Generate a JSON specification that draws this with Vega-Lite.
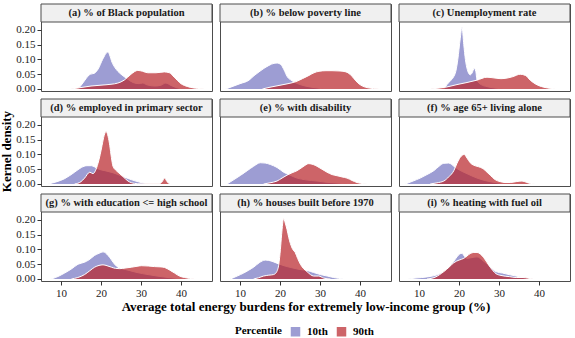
{
"$schema": "https://vega.github.io/schema/vega-lite/v6.json",
"padding": {"left": 0, "top": 3, "right": 2, "bottom": 0},
"background": "white",
"datasets": {
"panels": [
{"p":"a","label":"(a) % of Black population"},
{"p":"b","label":"(b) % below poverty line"},
{"p":"c","label":"(c) Unemployment rate"},
{"p":"d","label":"(d) % employed in primary sector"},
{"p":"e","label":"(e) % with disability"},
{"p":"f","label":"(f) % age 65+ living alone"},
{"p":"g","label":"(g) % with education <= high school"},
{"p":"h","label":"(h) % houses built before 1970"},
{"p":"i","label":"(i) % heating with fuel oil"}
],
"dens": [
{"p":"a","g":"10th","x":14.2,"y":0},{"p":"a","g":"10th","x":15,"y":0.012},{"p":"a","g":"10th","x":16.25,"y":0.035},{"p":"a","g":"10th","x":17.3,"y":0.05},{"p":"a","g":"10th","x":18.3,"y":0.053},{"p":"a","g":"10th","x":19.3,"y":0.068},{"p":"a","g":"10th","x":20.4,"y":0.1},{"p":"a","g":"10th","x":21.7,"y":0.125},{"p":"a","g":"10th","x":22.9,"y":0.086},{"p":"a","g":"10th","x":24.2,"y":0.06},{"p":"a","g":"10th","x":25,"y":0.05},{"p":"a","g":"10th","x":26.5,"y":0.035},{"p":"a","g":"10th","x":28,"y":0.022},{"p":"a","g":"10th","x":29.5,"y":0.018},{"p":"a","g":"10th","x":30.4,"y":0.02},{"p":"a","g":"10th","x":31.5,"y":0.014},{"p":"a","g":"10th","x":33.5,"y":0.01},{"p":"a","g":"10th","x":35,"y":0.013},{"p":"a","g":"10th","x":36.2,"y":0.02},{"p":"a","g":"10th","x":37.5,"y":0.012},{"p":"a","g":"10th","x":39,"y":0.004},{"p":"a","g":"10th","x":41,"y":0},
{"p":"a","g":"90th","x":12.5,"y":0},{"p":"a","g":"90th","x":15,"y":0.005},{"p":"a","g":"90th","x":17.5,"y":0.01},{"p":"a","g":"90th","x":20,"y":0.013},{"p":"a","g":"90th","x":22.5,"y":0.016},{"p":"a","g":"90th","x":24.2,"y":0.02},{"p":"a","g":"90th","x":25.8,"y":0.03},{"p":"a","g":"90th","x":27.5,"y":0.05},{"p":"a","g":"90th","x":29.2,"y":0.063},{"p":"a","g":"90th","x":30.4,"y":0.06},{"p":"a","g":"90th","x":31.7,"y":0.055},{"p":"a","g":"90th","x":33.75,"y":0.055},{"p":"a","g":"90th","x":35.8,"y":0.058},{"p":"a","g":"90th","x":37.1,"y":0.055},{"p":"a","g":"90th","x":38.3,"y":0.04},{"p":"a","g":"90th","x":40,"y":0.018},{"p":"a","g":"90th","x":41.7,"y":0.008},{"p":"a","g":"90th","x":44.2,"y":0.002},{"p":"a","g":"90th","x":45.8,"y":0},
{"p":"b","g":"10th","x":6.4,"y":0},{"p":"b","g":"10th","x":8,"y":0.008},{"p":"b","g":"10th","x":10,"y":0.018},{"p":"b","g":"10th","x":12.25,"y":0.03},{"p":"b","g":"10th","x":13.5,"y":0.045},{"p":"b","g":"10th","x":14.75,"y":0.058},{"p":"b","g":"10th","x":16,"y":0.07},{"p":"b","g":"10th","x":17.25,"y":0.08},{"p":"b","g":"10th","x":18.5,"y":0.087},{"p":"b","g":"10th","x":19.3,"y":0.088},{"p":"b","g":"10th","x":20.2,"y":0.083},{"p":"b","g":"10th","x":21,"y":0.065},{"p":"b","g":"10th","x":21.8,"y":0.042},{"p":"b","g":"10th","x":23,"y":0.028},{"p":"b","g":"10th","x":25,"y":0.015},{"p":"b","g":"10th","x":27,"y":0.008},{"p":"b","g":"10th","x":29.5,"y":0.003},{"p":"b","g":"10th","x":31,"y":0},
{"p":"b","g":"90th","x":15.6,"y":0},{"p":"b","g":"90th","x":17.5,"y":0.006},{"p":"b","g":"90th","x":19.75,"y":0.012},{"p":"b","g":"90th","x":22,"y":0.018},{"p":"b","g":"90th","x":24,"y":0.025},{"p":"b","g":"90th","x":25.6,"y":0.035},{"p":"b","g":"90th","x":27.25,"y":0.046},{"p":"b","g":"90th","x":28.5,"y":0.055},{"p":"b","g":"90th","x":29.75,"y":0.06},{"p":"b","g":"90th","x":31.5,"y":0.062},{"p":"b","g":"90th","x":33,"y":0.062},{"p":"b","g":"90th","x":35,"y":0.061},{"p":"b","g":"90th","x":36.5,"y":0.058},{"p":"b","g":"90th","x":37.5,"y":0.05},{"p":"b","g":"90th","x":38.5,"y":0.035},{"p":"b","g":"90th","x":39.5,"y":0.02},{"p":"b","g":"90th","x":40.6,"y":0.01},{"p":"b","g":"90th","x":42,"y":0.004},{"p":"b","g":"90th","x":44.75,"y":0},
{"p":"c","g":"10th","x":16.2,"y":0},{"p":"c","g":"10th","x":17,"y":0.015},{"p":"c","g":"10th","x":17.8,"y":0.027},{"p":"c","g":"10th","x":18.6,"y":0.04},{"p":"c","g":"10th","x":19.2,"y":0.06},{"p":"c","g":"10th","x":19.7,"y":0.1},{"p":"c","g":"10th","x":20.3,"y":0.17},{"p":"c","g":"10th","x":20.75,"y":0.21},{"p":"c","g":"10th","x":21.2,"y":0.15},{"p":"c","g":"10th","x":21.6,"y":0.1},{"p":"c","g":"10th","x":22.1,"y":0.065},{"p":"c","g":"10th","x":22.8,"y":0.048},{"p":"c","g":"10th","x":23.3,"y":0.055},{"p":"c","g":"10th","x":23.8,"y":0.07},{"p":"c","g":"10th","x":24.2,"y":0.06},{"p":"c","g":"10th","x":24.5,"y":0.03},{"p":"c","g":"10th","x":25.5,"y":0.015},{"p":"c","g":"10th","x":27,"y":0.008},{"p":"c","g":"10th","x":29,"y":0.003},{"p":"c","g":"10th","x":31,"y":0},
{"p":"c","g":"90th","x":12.8,"y":0},{"p":"c","g":"90th","x":15,"y":0.003},{"p":"c","g":"90th","x":17,"y":0.007},{"p":"c","g":"90th","x":19.5,"y":0.015},{"p":"c","g":"90th","x":22,"y":0.022},{"p":"c","g":"90th","x":24.5,"y":0.03},{"p":"c","g":"90th","x":27,"y":0.04},{"p":"c","g":"90th","x":29,"y":0.037},{"p":"c","g":"90th","x":30.5,"y":0.035},{"p":"c","g":"90th","x":32,"y":0.037},{"p":"c","g":"90th","x":33.5,"y":0.042},{"p":"c","g":"90th","x":35.3,"y":0.05},{"p":"c","g":"90th","x":36.6,"y":0.046},{"p":"c","g":"90th","x":37.8,"y":0.03},{"p":"c","g":"90th","x":39,"y":0.018},{"p":"c","g":"90th","x":41.2,"y":0.006},{"p":"c","g":"90th","x":43,"y":0.002},{"p":"c","g":"90th","x":45.3,"y":0},
{"p":"d","g":"10th","x":6.75,"y":0},{"p":"d","g":"10th","x":9,"y":0.008},{"p":"d","g":"10th","x":10.9,"y":0.018},{"p":"d","g":"10th","x":13.4,"y":0.04},{"p":"d","g":"10th","x":15.1,"y":0.056},{"p":"d","g":"10th","x":16.5,"y":0.062},{"p":"d","g":"10th","x":17.6,"y":0.062},{"p":"d","g":"10th","x":18.4,"y":0.058},{"p":"d","g":"10th","x":19.5,"y":0.05},{"p":"d","g":"10th","x":21,"y":0.045},{"p":"d","g":"10th","x":23,"y":0.038},{"p":"d","g":"10th","x":25,"y":0.028},{"p":"d","g":"10th","x":27.5,"y":0.015},{"p":"d","g":"10th","x":30,"y":0.005},{"p":"d","g":"10th","x":32,"y":0},
{"p":"d","g":"90th","x":13.4,"y":0},{"p":"d","g":"90th","x":15,"y":0.008},{"p":"d","g":"90th","x":15.9,"y":0.02},{"p":"d","g":"90th","x":17.2,"y":0.04},{"p":"d","g":"90th","x":18,"y":0.035},{"p":"d","g":"90th","x":18.6,"y":0.045},{"p":"d","g":"90th","x":19.25,"y":0.07},{"p":"d","g":"90th","x":19.8,"y":0.1},{"p":"d","g":"90th","x":20.25,"y":0.13},{"p":"d","g":"90th","x":20.8,"y":0.165},{"p":"d","g":"90th","x":21.3,"y":0.178},{"p":"d","g":"90th","x":21.8,"y":0.16},{"p":"d","g":"90th","x":22.2,"y":0.13},{"p":"d","g":"90th","x":22.6,"y":0.09},{"p":"d","g":"90th","x":23,"y":0.06},{"p":"d","g":"90th","x":23.6,"y":0.048},{"p":"d","g":"90th","x":24.25,"y":0.04},{"p":"d","g":"90th","x":25.5,"y":0.025},{"p":"d","g":"90th","x":26.75,"y":0.01},{"p":"d","g":"90th","x":28.4,"y":0.002},{"p":"d","g":"90th","x":30,"y":0.0005},{"p":"d","g":"90th","x":34.5,"y":0.0005},{"p":"d","g":"90th","x":35.3,"y":0.008},{"p":"d","g":"90th","x":35.9,"y":0.02},{"p":"d","g":"90th","x":36.5,"y":0.008},{"p":"d","g":"90th","x":37.2,"y":0},
{"p":"e","g":"10th","x":6.75,"y":0},{"p":"e","g":"10th","x":8.5,"y":0.015},{"p":"e","g":"10th","x":10.1,"y":0.029},{"p":"e","g":"10th","x":11.8,"y":0.045},{"p":"e","g":"10th","x":13.4,"y":0.06},{"p":"e","g":"10th","x":15.1,"y":0.072},{"p":"e","g":"10th","x":16.3,"y":0.071},{"p":"e","g":"10th","x":17.6,"y":0.066},{"p":"e","g":"10th","x":19.25,"y":0.056},{"p":"e","g":"10th","x":20.9,"y":0.04},{"p":"e","g":"10th","x":22.5,"y":0.03},{"p":"e","g":"10th","x":24.25,"y":0.02},{"p":"e","g":"10th","x":26.5,"y":0.014},{"p":"e","g":"10th","x":29.25,"y":0.01},{"p":"e","g":"10th","x":31.5,"y":0.006},{"p":"e","g":"10th","x":34.25,"y":0.003},{"p":"e","g":"10th","x":37,"y":0},
{"p":"e","g":"90th","x":15.9,"y":0},{"p":"e","g":"90th","x":17.5,"y":0.004},{"p":"e","g":"90th","x":19.25,"y":0.01},{"p":"e","g":"90th","x":20.5,"y":0.02},{"p":"e","g":"90th","x":21.75,"y":0.03},{"p":"e","g":"90th","x":23,"y":0.038},{"p":"e","g":"90th","x":24.25,"y":0.045},{"p":"e","g":"90th","x":25.7,"y":0.058},{"p":"e","g":"90th","x":27.2,"y":0.069},{"p":"e","g":"90th","x":28.3,"y":0.066},{"p":"e","g":"90th","x":29.25,"y":0.06},{"p":"e","g":"90th","x":30.5,"y":0.05},{"p":"e","g":"90th","x":31.75,"y":0.04},{"p":"e","g":"90th","x":33,"y":0.032},{"p":"e","g":"90th","x":34.25,"y":0.028},{"p":"e","g":"90th","x":35.5,"y":0.024},{"p":"e","g":"90th","x":36.75,"y":0.02},{"p":"e","g":"90th","x":38,"y":0.012},{"p":"e","g":"90th","x":39.25,"y":0.005},{"p":"e","g":"90th","x":41,"y":0.001},{"p":"e","g":"90th","x":42.6,"y":0},
{"p":"f","g":"10th","x":6.6,"y":0},{"p":"f","g":"10th","x":8.5,"y":0.01},{"p":"f","g":"10th","x":10.3,"y":0.02},{"p":"f","g":"10th","x":12,"y":0.032},{"p":"f","g":"10th","x":13.7,"y":0.045},{"p":"f","g":"10th","x":15,"y":0.06},{"p":"f","g":"10th","x":16.2,"y":0.07},{"p":"f","g":"10th","x":17.4,"y":0.071},{"p":"f","g":"10th","x":18.2,"y":0.066},{"p":"f","g":"10th","x":18.7,"y":0.06},{"p":"f","g":"10th","x":20,"y":0.048},{"p":"f","g":"10th","x":22,"y":0.035},{"p":"f","g":"10th","x":24.5,"y":0.02},{"p":"f","g":"10th","x":27,"y":0.01},{"p":"f","g":"10th","x":29.5,"y":0.004},{"p":"f","g":"10th","x":32,"y":0},
{"p":"f","g":"90th","x":12.8,"y":0},{"p":"f","g":"90th","x":14.5,"y":0.004},{"p":"f","g":"90th","x":16.2,"y":0.01},{"p":"f","g":"90th","x":17.5,"y":0.025},{"p":"f","g":"90th","x":18.7,"y":0.045},{"p":"f","g":"90th","x":19.5,"y":0.07},{"p":"f","g":"90th","x":20.3,"y":0.09},{"p":"f","g":"90th","x":21.3,"y":0.1},{"p":"f","g":"90th","x":22,"y":0.088},{"p":"f","g":"90th","x":22.8,"y":0.072},{"p":"f","g":"90th","x":23.6,"y":0.064},{"p":"f","g":"90th","x":24.5,"y":0.06},{"p":"f","g":"90th","x":25.4,"y":0.056},{"p":"f","g":"90th","x":26.2,"y":0.05},{"p":"f","g":"90th","x":27,"y":0.04},{"p":"f","g":"90th","x":27.8,"y":0.03},{"p":"f","g":"90th","x":29,"y":0.015},{"p":"f","g":"90th","x":30.3,"y":0.008},{"p":"f","g":"90th","x":31.5,"y":0.005},{"p":"f","g":"90th","x":32.8,"y":0.005},{"p":"f","g":"90th","x":34.3,"y":0.008},{"p":"f","g":"90th","x":35.75,"y":0.01},{"p":"f","g":"90th","x":36.8,"y":0.006},{"p":"f","g":"90th","x":37.8,"y":0.002},{"p":"f","g":"90th","x":40.3,"y":0},
{"p":"g","g":"10th","x":7.6,"y":0},{"p":"g","g":"10th","x":9.5,"y":0.01},{"p":"g","g":"10th","x":10.9,"y":0.02},{"p":"g","g":"10th","x":12.5,"y":0.033},{"p":"g","g":"10th","x":14.25,"y":0.05},{"p":"g","g":"10th","x":15.9,"y":0.057},{"p":"g","g":"10th","x":17,"y":0.065},{"p":"g","g":"10th","x":18.4,"y":0.08},{"p":"g","g":"10th","x":19.5,"y":0.087},{"p":"g","g":"10th","x":20.5,"y":0.092},{"p":"g","g":"10th","x":21.75,"y":0.08},{"p":"g","g":"10th","x":22.6,"y":0.065},{"p":"g","g":"10th","x":23.4,"y":0.05},{"p":"g","g":"10th","x":24.25,"y":0.04},{"p":"g","g":"10th","x":26.75,"y":0.03},{"p":"g","g":"10th","x":29,"y":0.022},{"p":"g","g":"10th","x":31.75,"y":0.015},{"p":"g","g":"10th","x":34,"y":0.01},{"p":"g","g":"10th","x":36.75,"y":0.005},{"p":"g","g":"10th","x":40.5,"y":0},
{"p":"g","g":"90th","x":12.6,"y":0},{"p":"g","g":"90th","x":14.2,"y":0.005},{"p":"g","g":"90th","x":15.9,"y":0.015},{"p":"g","g":"90th","x":17.2,"y":0.028},{"p":"g","g":"90th","x":18.4,"y":0.04},{"p":"g","g":"90th","x":19.5,"y":0.046},{"p":"g","g":"90th","x":20.5,"y":0.048},{"p":"g","g":"90th","x":21.5,"y":0.045},{"p":"g","g":"90th","x":22.6,"y":0.04},{"p":"g","g":"90th","x":23.6,"y":0.036},{"p":"g","g":"90th","x":24.7,"y":0.035},{"p":"g","g":"90th","x":26,"y":0.037},{"p":"g","g":"90th","x":27.6,"y":0.04},{"p":"g","g":"90th","x":29,"y":0.043},{"p":"g","g":"90th","x":30.1,"y":0.045},{"p":"g","g":"90th","x":31.8,"y":0.044},{"p":"g","g":"90th","x":33.4,"y":0.042},{"p":"g","g":"90th","x":35,"y":0.041},{"p":"g","g":"90th","x":35.9,"y":0.039},{"p":"g","g":"90th","x":37.2,"y":0.03},{"p":"g","g":"90th","x":38.4,"y":0.02},{"p":"g","g":"90th","x":39.6,"y":0.01},{"p":"g","g":"90th","x":40.9,"y":0.005},{"p":"g","g":"90th","x":43.4,"y":0},
{"p":"h","g":"10th","x":7.6,"y":0},{"p":"h","g":"10th","x":9.3,"y":0.01},{"p":"h","g":"10th","x":10.9,"y":0.02},{"p":"h","g":"10th","x":12.2,"y":0.03},{"p":"h","g":"10th","x":13.4,"y":0.04},{"p":"h","g":"10th","x":14.8,"y":0.055},{"p":"h","g":"10th","x":16.3,"y":0.064},{"p":"h","g":"10th","x":17.2,"y":0.063},{"p":"h","g":"10th","x":18,"y":0.06},{"p":"h","g":"10th","x":19.5,"y":0.052},{"p":"h","g":"10th","x":21,"y":0.045},{"p":"h","g":"10th","x":23,"y":0.038},{"p":"h","g":"10th","x":25,"y":0.032},{"p":"h","g":"10th","x":26.75,"y":0.029},{"p":"h","g":"10th","x":28.4,"y":0.022},{"p":"h","g":"10th","x":30.1,"y":0.015},{"p":"h","g":"10th","x":31.8,"y":0.01},{"p":"h","g":"10th","x":33.4,"y":0.005},{"p":"h","g":"10th","x":35.9,"y":0},
{"p":"h","g":"90th","x":13.4,"y":0},{"p":"h","g":"90th","x":14.6,"y":0.004},{"p":"h","g":"90th","x":15.9,"y":0.01},{"p":"h","g":"90th","x":17.2,"y":0.013},{"p":"h","g":"90th","x":18.4,"y":0.015},{"p":"h","g":"90th","x":19.2,"y":0.025},{"p":"h","g":"90th","x":19.7,"y":0.05},{"p":"h","g":"90th","x":20.1,"y":0.1},{"p":"h","g":"90th","x":20.4,"y":0.15},{"p":"h","g":"90th","x":20.9,"y":0.205},{"p":"h","g":"90th","x":21.3,"y":0.19},{"p":"h","g":"90th","x":21.75,"y":0.168},{"p":"h","g":"90th","x":22.2,"y":0.14},{"p":"h","g":"90th","x":22.6,"y":0.12},{"p":"h","g":"90th","x":23.2,"y":0.1},{"p":"h","g":"90th","x":23.8,"y":0.09},{"p":"h","g":"90th","x":24.4,"y":0.07},{"p":"h","g":"90th","x":25.1,"y":0.05},{"p":"h","g":"90th","x":25.9,"y":0.035},{"p":"h","g":"90th","x":26.75,"y":0.025},{"p":"h","g":"90th","x":27.6,"y":0.015},{"p":"h","g":"90th","x":28.4,"y":0.01},{"p":"h","g":"90th","x":29.7,"y":0.01},{"p":"h","g":"90th","x":30.9,"y":0.003},{"p":"h","g":"90th","x":32.6,"y":0},
{"p":"i","g":"10th","x":7.3,"y":0},{"p":"i","g":"10th","x":9,"y":0.003},{"p":"i","g":"10th","x":10.7,"y":0.005},{"p":"i","g":"10th","x":12.5,"y":0.008},{"p":"i","g":"10th","x":14.5,"y":0.014},{"p":"i","g":"10th","x":16.2,"y":0.025},{"p":"i","g":"10th","x":17.5,"y":0.04},{"p":"i","g":"10th","x":18.7,"y":0.06},{"p":"i","g":"10th","x":19.5,"y":0.075},{"p":"i","g":"10th","x":20.2,"y":0.085},{"p":"i","g":"10th","x":20.75,"y":0.087},{"p":"i","g":"10th","x":21.3,"y":0.078},{"p":"i","g":"10th","x":22,"y":0.07},{"p":"i","g":"10th","x":23,"y":0.072},{"p":"i","g":"10th","x":24.5,"y":0.075},{"p":"i","g":"10th","x":26,"y":0.062},{"p":"i","g":"10th","x":27.5,"y":0.045},{"p":"i","g":"10th","x":28.5,"y":0.032},{"p":"i","g":"10th","x":29.25,"y":0.025},{"p":"i","g":"10th","x":30.9,"y":0.02},{"p":"i","g":"10th","x":32.5,"y":0.015},{"p":"i","g":"10th","x":34.25,"y":0.01},{"p":"i","g":"10th","x":36,"y":0.005},{"p":"i","g":"10th","x":38.5,"y":0},
{"p":"i","g":"90th","x":12,"y":0},{"p":"i","g":"90th","x":14,"y":0.006},{"p":"i","g":"90th","x":16.2,"y":0.025},{"p":"i","g":"90th","x":17.5,"y":0.04},{"p":"i","g":"90th","x":18.7,"y":0.055},{"p":"i","g":"90th","x":20,"y":0.064},{"p":"i","g":"90th","x":21.2,"y":0.07},{"p":"i","g":"90th","x":22,"y":0.078},{"p":"i","g":"90th","x":22.8,"y":0.086},{"p":"i","g":"90th","x":23.7,"y":0.09},{"p":"i","g":"90th","x":24.5,"y":0.09},{"p":"i","g":"90th","x":25.3,"y":0.085},{"p":"i","g":"90th","x":26.2,"y":0.072},{"p":"i","g":"90th","x":27,"y":0.056},{"p":"i","g":"90th","x":27.8,"y":0.04},{"p":"i","g":"90th","x":28.5,"y":0.028},{"p":"i","g":"90th","x":29.25,"y":0.018},{"p":"i","g":"90th","x":30.5,"y":0.012},{"p":"i","g":"90th","x":32.6,"y":0.008},{"p":"i","g":"90th","x":34.3,"y":0.005},{"p":"i","g":"90th","x":36,"y":0.005},{"p":"i","g":"90th","x":37.2,"y":0.003},{"p":"i","g":"90th","x":38.5,"y":0}
]
},
"columns": 3,
"spacing": {"row": 8, "column": 8},
"bounds": "flush",
"concat": [
{"width":171,"height":87,"resolve":{"axis":{"x":"independent","y":"independent"}},
"layer":[
{"data":{"name":"dens"},"transform":[{"filter":"datum.p=='a'&&datum.g=='10th'"}],"mark":"area","encoding":{"x":{"field":"x","type":"quantitative","scale":{"domain":[5,47.75],"nice":false,"zero":false},"axis":null},"y":{"field":"y","type":"quantitative","scale":{"domain":[-0.0068,0.288],"nice":false,"zero":false},"axis":{"values":[0,0.05,0.1,0.15,0.2],"format":".2f","title":null}},"y2":{"datum":0},"color":{"field":"g","type":"nominal","title":"Percentile","scale":{"domain":["10th","90th"],"range":["#7474c0","#b82228"]}}}},
{"data":{"name":"dens"},"transform":[{"filter":"datum.p=='a'&&datum.g=='10th'"}],"mark":"line","encoding":{"x":{"field":"x","type":"quantitative","axis":null},"y":{"field":"y","type":"quantitative","axis":null}}},
{"data":{"name":"dens"},"transform":[{"filter":"datum.p=='a'&&datum.g=='90th'"}],"mark":"area","encoding":{"x":{"field":"x","type":"quantitative","axis":null},"y":{"field":"y","type":"quantitative","axis":null},"y2":{"datum":0},"color":{"field":"g","type":"nominal","title":"Percentile","scale":{"domain":["10th","90th"],"range":["#7474c0","#b82228"]}}}},
{"data":{"name":"dens"},"transform":[{"filter":"datum.p=='a'&&datum.g=='90th'"}],"mark":"line","encoding":{"x":{"field":"x","type":"quantitative","axis":null},"y":{"field":"y","type":"quantitative","axis":null}}},
{"data":{"name":"panels"},"transform":[{"filter":"datum.p=='a'"}],"mark":"rect","encoding":{"x":{"datum":5,"type":"quantitative","axis":null},"x2":{"datum":47.75},"y":{"datum":0.227,"type":"quantitative","axis":null},"y2":{"datum":0.288}}},
{"data":{"name":"panels"},"transform":[{"filter":"datum.p=='a'"}],"mark":"text","encoding":{"x":{"datum":26.375,"type":"quantitative","axis":null},"y":{"datum":0.2575,"type":"quantitative","axis":null},"text":{"field":"label"}}}
]},
{"width":171,"height":87,"resolve":{"axis":{"x":"independent","y":"independent"}},
"layer":[
{"data":{"name":"dens"},"transform":[{"filter":"datum.p=='b'&&datum.g=='10th'"}],"mark":"area","encoding":{"x":{"field":"x","type":"quantitative","scale":{"domain":[5,47.75],"nice":false,"zero":false},"axis":null},"y":{"field":"y","type":"quantitative","scale":{"domain":[-0.0068,0.288],"nice":false,"zero":false},"axis":null},"y2":{"datum":0},"color":{"field":"g","type":"nominal","title":"Percentile","scale":{"domain":["10th","90th"],"range":["#7474c0","#b82228"]}}}},
{"data":{"name":"dens"},"transform":[{"filter":"datum.p=='b'&&datum.g=='10th'"}],"mark":"line","encoding":{"x":{"field":"x","type":"quantitative","axis":null},"y":{"field":"y","type":"quantitative","axis":null}}},
{"data":{"name":"dens"},"transform":[{"filter":"datum.p=='b'&&datum.g=='90th'"}],"mark":"area","encoding":{"x":{"field":"x","type":"quantitative","axis":null},"y":{"field":"y","type":"quantitative","axis":null},"y2":{"datum":0},"color":{"field":"g","type":"nominal","title":"Percentile","scale":{"domain":["10th","90th"],"range":["#7474c0","#b82228"]}}}},
{"data":{"name":"dens"},"transform":[{"filter":"datum.p=='b'&&datum.g=='90th'"}],"mark":"line","encoding":{"x":{"field":"x","type":"quantitative","axis":null},"y":{"field":"y","type":"quantitative","axis":null}}},
{"data":{"name":"panels"},"transform":[{"filter":"datum.p=='b'"}],"mark":"rect","encoding":{"x":{"datum":5,"type":"quantitative","axis":null},"x2":{"datum":47.75},"y":{"datum":0.227,"type":"quantitative","axis":null},"y2":{"datum":0.288}}},
{"data":{"name":"panels"},"transform":[{"filter":"datum.p=='b'"}],"mark":"text","encoding":{"x":{"datum":26.375,"type":"quantitative","axis":null},"y":{"datum":0.2575,"type":"quantitative","axis":null},"text":{"field":"label"}}}
]},
{"width":171,"height":87,"resolve":{"axis":{"x":"independent","y":"independent"}},
"layer":[
{"data":{"name":"dens"},"transform":[{"filter":"datum.p=='c'&&datum.g=='10th'"}],"mark":"area","encoding":{"x":{"field":"x","type":"quantitative","scale":{"domain":[5,47.75],"nice":false,"zero":false},"axis":null},"y":{"field":"y","type":"quantitative","scale":{"domain":[-0.0068,0.288],"nice":false,"zero":false},"axis":null},"y2":{"datum":0},"color":{"field":"g","type":"nominal","title":"Percentile","scale":{"domain":["10th","90th"],"range":["#7474c0","#b82228"]}}}},
{"data":{"name":"dens"},"transform":[{"filter":"datum.p=='c'&&datum.g=='10th'"}],"mark":"line","encoding":{"x":{"field":"x","type":"quantitative","axis":null},"y":{"field":"y","type":"quantitative","axis":null}}},
{"data":{"name":"dens"},"transform":[{"filter":"datum.p=='c'&&datum.g=='90th'"}],"mark":"area","encoding":{"x":{"field":"x","type":"quantitative","axis":null},"y":{"field":"y","type":"quantitative","axis":null},"y2":{"datum":0},"color":{"field":"g","type":"nominal","title":"Percentile","scale":{"domain":["10th","90th"],"range":["#7474c0","#b82228"]}}}},
{"data":{"name":"dens"},"transform":[{"filter":"datum.p=='c'&&datum.g=='90th'"}],"mark":"line","encoding":{"x":{"field":"x","type":"quantitative","axis":null},"y":{"field":"y","type":"quantitative","axis":null}}},
{"data":{"name":"panels"},"transform":[{"filter":"datum.p=='c'"}],"mark":"rect","encoding":{"x":{"datum":5,"type":"quantitative","axis":null},"x2":{"datum":47.75},"y":{"datum":0.227,"type":"quantitative","axis":null},"y2":{"datum":0.288}}},
{"data":{"name":"panels"},"transform":[{"filter":"datum.p=='c'"}],"mark":"text","encoding":{"x":{"datum":26.375,"type":"quantitative","axis":null},"y":{"datum":0.2575,"type":"quantitative","axis":null},"text":{"field":"label"}}}
]},
{"width":171,"height":87,"resolve":{"axis":{"x":"independent","y":"independent"}},
"layer":[
{"data":{"name":"dens"},"transform":[{"filter":"datum.p=='d'&&datum.g=='10th'"}],"mark":"area","encoding":{"x":{"field":"x","type":"quantitative","scale":{"domain":[5,47.75],"nice":false,"zero":false},"axis":null},"y":{"field":"y","type":"quantitative","scale":{"domain":[-0.0068,0.288],"nice":false,"zero":false},"axis":{"values":[0,0.05,0.1,0.15,0.2],"format":".2f","title":"Kernel density","titleY":52}},"y2":{"datum":0},"color":{"field":"g","type":"nominal","title":"Percentile","scale":{"domain":["10th","90th"],"range":["#7474c0","#b82228"]}}}},
{"data":{"name":"dens"},"transform":[{"filter":"datum.p=='d'&&datum.g=='10th'"}],"mark":"line","encoding":{"x":{"field":"x","type":"quantitative","axis":null},"y":{"field":"y","type":"quantitative","axis":null}}},
{"data":{"name":"dens"},"transform":[{"filter":"datum.p=='d'&&datum.g=='90th'"}],"mark":"area","encoding":{"x":{"field":"x","type":"quantitative","axis":null},"y":{"field":"y","type":"quantitative","axis":null},"y2":{"datum":0},"color":{"field":"g","type":"nominal","title":"Percentile","scale":{"domain":["10th","90th"],"range":["#7474c0","#b82228"]}}}},
{"data":{"name":"dens"},"transform":[{"filter":"datum.p=='d'&&datum.g=='90th'"}],"mark":"line","encoding":{"x":{"field":"x","type":"quantitative","axis":null},"y":{"field":"y","type":"quantitative","axis":null}}},
{"data":{"name":"panels"},"transform":[{"filter":"datum.p=='d'"}],"mark":"rect","encoding":{"x":{"datum":5,"type":"quantitative","axis":null},"x2":{"datum":47.75},"y":{"datum":0.227,"type":"quantitative","axis":null},"y2":{"datum":0.288}}},
{"data":{"name":"panels"},"transform":[{"filter":"datum.p=='d'"}],"mark":"text","encoding":{"x":{"datum":26.375,"type":"quantitative","axis":null},"y":{"datum":0.2575,"type":"quantitative","axis":null},"text":{"field":"label"}}}
]},
{"width":171,"height":87,"resolve":{"axis":{"x":"independent","y":"independent"}},
"layer":[
{"data":{"name":"dens"},"transform":[{"filter":"datum.p=='e'&&datum.g=='10th'"}],"mark":"area","encoding":{"x":{"field":"x","type":"quantitative","scale":{"domain":[5,47.75],"nice":false,"zero":false},"axis":null},"y":{"field":"y","type":"quantitative","scale":{"domain":[-0.0068,0.288],"nice":false,"zero":false},"axis":null},"y2":{"datum":0},"color":{"field":"g","type":"nominal","title":"Percentile","scale":{"domain":["10th","90th"],"range":["#7474c0","#b82228"]}}}},
{"data":{"name":"dens"},"transform":[{"filter":"datum.p=='e'&&datum.g=='10th'"}],"mark":"line","encoding":{"x":{"field":"x","type":"quantitative","axis":null},"y":{"field":"y","type":"quantitative","axis":null}}},
{"data":{"name":"dens"},"transform":[{"filter":"datum.p=='e'&&datum.g=='90th'"}],"mark":"area","encoding":{"x":{"field":"x","type":"quantitative","axis":null},"y":{"field":"y","type":"quantitative","axis":null},"y2":{"datum":0},"color":{"field":"g","type":"nominal","title":"Percentile","scale":{"domain":["10th","90th"],"range":["#7474c0","#b82228"]}}}},
{"data":{"name":"dens"},"transform":[{"filter":"datum.p=='e'&&datum.g=='90th'"}],"mark":"line","encoding":{"x":{"field":"x","type":"quantitative","axis":null},"y":{"field":"y","type":"quantitative","axis":null}}},
{"data":{"name":"panels"},"transform":[{"filter":"datum.p=='e'"}],"mark":"rect","encoding":{"x":{"datum":5,"type":"quantitative","axis":null},"x2":{"datum":47.75},"y":{"datum":0.227,"type":"quantitative","axis":null},"y2":{"datum":0.288}}},
{"data":{"name":"panels"},"transform":[{"filter":"datum.p=='e'"}],"mark":"text","encoding":{"x":{"datum":26.375,"type":"quantitative","axis":null},"y":{"datum":0.2575,"type":"quantitative","axis":null},"text":{"field":"label"}}}
]},
{"width":171,"height":87,"resolve":{"axis":{"x":"independent","y":"independent"}},
"layer":[
{"data":{"name":"dens"},"transform":[{"filter":"datum.p=='f'&&datum.g=='10th'"}],"mark":"area","encoding":{"x":{"field":"x","type":"quantitative","scale":{"domain":[5,47.75],"nice":false,"zero":false},"axis":null},"y":{"field":"y","type":"quantitative","scale":{"domain":[-0.0068,0.288],"nice":false,"zero":false},"axis":null},"y2":{"datum":0},"color":{"field":"g","type":"nominal","title":"Percentile","scale":{"domain":["10th","90th"],"range":["#7474c0","#b82228"]}}}},
{"data":{"name":"dens"},"transform":[{"filter":"datum.p=='f'&&datum.g=='10th'"}],"mark":"line","encoding":{"x":{"field":"x","type":"quantitative","axis":null},"y":{"field":"y","type":"quantitative","axis":null}}},
{"data":{"name":"dens"},"transform":[{"filter":"datum.p=='f'&&datum.g=='90th'"}],"mark":"area","encoding":{"x":{"field":"x","type":"quantitative","axis":null},"y":{"field":"y","type":"quantitative","axis":null},"y2":{"datum":0},"color":{"field":"g","type":"nominal","title":"Percentile","scale":{"domain":["10th","90th"],"range":["#7474c0","#b82228"]}}}},
{"data":{"name":"dens"},"transform":[{"filter":"datum.p=='f'&&datum.g=='90th'"}],"mark":"line","encoding":{"x":{"field":"x","type":"quantitative","axis":null},"y":{"field":"y","type":"quantitative","axis":null}}},
{"data":{"name":"panels"},"transform":[{"filter":"datum.p=='f'"}],"mark":"rect","encoding":{"x":{"datum":5,"type":"quantitative","axis":null},"x2":{"datum":47.75},"y":{"datum":0.227,"type":"quantitative","axis":null},"y2":{"datum":0.288}}},
{"data":{"name":"panels"},"transform":[{"filter":"datum.p=='f'"}],"mark":"text","encoding":{"x":{"datum":26.375,"type":"quantitative","axis":null},"y":{"datum":0.2575,"type":"quantitative","axis":null},"text":{"field":"label"}}}
]},
{"width":171,"height":87,"resolve":{"axis":{"x":"independent","y":"independent"}},
"layer":[
{"data":{"name":"dens"},"transform":[{"filter":"datum.p=='g'&&datum.g=='10th'"}],"mark":"area","encoding":{"x":{"field":"x","type":"quantitative","scale":{"domain":[5,47.75],"nice":false,"zero":false},"axis":{"values":[10,20,30,40],"title":null}},"y":{"field":"y","type":"quantitative","scale":{"domain":[-0.0068,0.288],"nice":false,"zero":false},"axis":{"values":[0,0.05,0.1,0.15,0.2],"format":".2f","title":null}},"y2":{"datum":0},"color":{"field":"g","type":"nominal","title":"Percentile","scale":{"domain":["10th","90th"],"range":["#7474c0","#b82228"]}}}},
{"data":{"name":"dens"},"transform":[{"filter":"datum.p=='g'&&datum.g=='10th'"}],"mark":"line","encoding":{"x":{"field":"x","type":"quantitative","axis":null},"y":{"field":"y","type":"quantitative","axis":null}}},
{"data":{"name":"dens"},"transform":[{"filter":"datum.p=='g'&&datum.g=='90th'"}],"mark":"area","encoding":{"x":{"field":"x","type":"quantitative","axis":null},"y":{"field":"y","type":"quantitative","axis":null},"y2":{"datum":0},"color":{"field":"g","type":"nominal","title":"Percentile","scale":{"domain":["10th","90th"],"range":["#7474c0","#b82228"]}}}},
{"data":{"name":"dens"},"transform":[{"filter":"datum.p=='g'&&datum.g=='90th'"}],"mark":"line","encoding":{"x":{"field":"x","type":"quantitative","axis":null},"y":{"field":"y","type":"quantitative","axis":null}}},
{"data":{"name":"panels"},"transform":[{"filter":"datum.p=='g'"}],"mark":"rect","encoding":{"x":{"datum":5,"type":"quantitative","axis":null},"x2":{"datum":47.75},"y":{"datum":0.227,"type":"quantitative","axis":null},"y2":{"datum":0.288}}},
{"data":{"name":"panels"},"transform":[{"filter":"datum.p=='g'"}],"mark":"text","encoding":{"x":{"datum":26.375,"type":"quantitative","axis":null},"y":{"datum":0.2575,"type":"quantitative","axis":null},"text":{"field":"label"}}}
]},
{"width":171,"height":87,"resolve":{"axis":{"x":"independent","y":"independent"}},
"layer":[
{"data":{"name":"dens"},"transform":[{"filter":"datum.p=='h'&&datum.g=='10th'"}],"mark":"area","encoding":{"x":{"field":"x","type":"quantitative","scale":{"domain":[5,47.75],"nice":false,"zero":false},"axis":{"values":[10,20,30,40],"title":"Average total energy burdens for extremely low-income group (%)"}},"y":{"field":"y","type":"quantitative","scale":{"domain":[-0.0068,0.288],"nice":false,"zero":false},"axis":null},"y2":{"datum":0},"color":{"field":"g","type":"nominal","title":"Percentile","scale":{"domain":["10th","90th"],"range":["#7474c0","#b82228"]}}}},
{"data":{"name":"dens"},"transform":[{"filter":"datum.p=='h'&&datum.g=='10th'"}],"mark":"line","encoding":{"x":{"field":"x","type":"quantitative","axis":null},"y":{"field":"y","type":"quantitative","axis":null}}},
{"data":{"name":"dens"},"transform":[{"filter":"datum.p=='h'&&datum.g=='90th'"}],"mark":"area","encoding":{"x":{"field":"x","type":"quantitative","axis":null},"y":{"field":"y","type":"quantitative","axis":null},"y2":{"datum":0},"color":{"field":"g","type":"nominal","title":"Percentile","scale":{"domain":["10th","90th"],"range":["#7474c0","#b82228"]}}}},
{"data":{"name":"dens"},"transform":[{"filter":"datum.p=='h'&&datum.g=='90th'"}],"mark":"line","encoding":{"x":{"field":"x","type":"quantitative","axis":null},"y":{"field":"y","type":"quantitative","axis":null}}},
{"data":{"name":"panels"},"transform":[{"filter":"datum.p=='h'"}],"mark":"rect","encoding":{"x":{"datum":5,"type":"quantitative","axis":null},"x2":{"datum":47.75},"y":{"datum":0.227,"type":"quantitative","axis":null},"y2":{"datum":0.288}}},
{"data":{"name":"panels"},"transform":[{"filter":"datum.p=='h'"}],"mark":"text","encoding":{"x":{"datum":26.375,"type":"quantitative","axis":null},"y":{"datum":0.2575,"type":"quantitative","axis":null},"text":{"field":"label"}}}
]},
{"width":171,"height":87,"resolve":{"axis":{"x":"independent","y":"independent"}},
"layer":[
{"data":{"name":"dens"},"transform":[{"filter":"datum.p=='i'&&datum.g=='10th'"}],"mark":"area","encoding":{"x":{"field":"x","type":"quantitative","scale":{"domain":[5,47.75],"nice":false,"zero":false},"axis":{"values":[10,20,30,40],"title":null}},"y":{"field":"y","type":"quantitative","scale":{"domain":[-0.0068,0.288],"nice":false,"zero":false},"axis":null},"y2":{"datum":0},"color":{"field":"g","type":"nominal","title":"Percentile","scale":{"domain":["10th","90th"],"range":["#7474c0","#b82228"]}}}},
{"data":{"name":"dens"},"transform":[{"filter":"datum.p=='i'&&datum.g=='10th'"}],"mark":"line","encoding":{"x":{"field":"x","type":"quantitative","axis":null},"y":{"field":"y","type":"quantitative","axis":null}}},
{"data":{"name":"dens"},"transform":[{"filter":"datum.p=='i'&&datum.g=='90th'"}],"mark":"area","encoding":{"x":{"field":"x","type":"quantitative","axis":null},"y":{"field":"y","type":"quantitative","axis":null},"y2":{"datum":0},"color":{"field":"g","type":"nominal","title":"Percentile","scale":{"domain":["10th","90th"],"range":["#7474c0","#b82228"]}}}},
{"data":{"name":"dens"},"transform":[{"filter":"datum.p=='i'&&datum.g=='90th'"}],"mark":"line","encoding":{"x":{"field":"x","type":"quantitative","axis":null},"y":{"field":"y","type":"quantitative","axis":null}}},
{"data":{"name":"panels"},"transform":[{"filter":"datum.p=='i'"}],"mark":"rect","encoding":{"x":{"datum":5,"type":"quantitative","axis":null},"x2":{"datum":47.75},"y":{"datum":0.227,"type":"quantitative","axis":null},"y2":{"datum":0.288}}},
{"data":{"name":"panels"},"transform":[{"filter":"datum.p=='i'"}],"mark":"text","encoding":{"x":{"datum":26.375,"type":"quantitative","axis":null},"y":{"datum":0.2575,"type":"quantitative","axis":null},"text":{"field":"label"}}}
]}
],
"config": {
"font": "Liberation Serif",
"view": {"stroke": "#4d4d4d", "strokeWidth": 1},
"area": {"interpolate": "monotone", "opacity": 0.7},
"line": {"interpolate": "monotone", "color": "white", "strokeWidth": 1},
"rect": {"fill": "#f0f0f0", "stroke": "#4d4d4d", "strokeWidth": 1},
"text": {"font": "Liberation Serif", "fontWeight": "bold", "fontSize": 10.5, "color": "#1a1a1a", "baseline": "middle", "align": "center"},
"axis": {"grid": false, "domain": false, "tickColor": "#333333", "tickSize": 4, "labelFont": "Liberation Serif", "labelFontSize": 11, "labelColor": "#222222", "labelPadding": 2, "titleFont": "Liberation Serif", "titleFontSize": 13, "titleFontWeight": "bold", "titleColor": "#000000", "titlePadding": 2},
"legend": {"orient": "none", "legendX": 194, "legendY": 322, "direction": "horizontal", "titleOrient": "left", "titleFont": "Liberation Serif", "titleFontSize": 11, "titleFontWeight": "bold", "titleColor": "#000000", "labelFont": "Liberation Serif", "labelFontSize": 11, "labelFontWeight": "bold", "labelColor": "#000000", "symbolType": "square", "symbolSize": 90, "symbolStrokeWidth": 0, "symbolOpacity": 0.7, "columnPadding": 8, "labelOffset": 6, "titlePadding": 8}
}
}
